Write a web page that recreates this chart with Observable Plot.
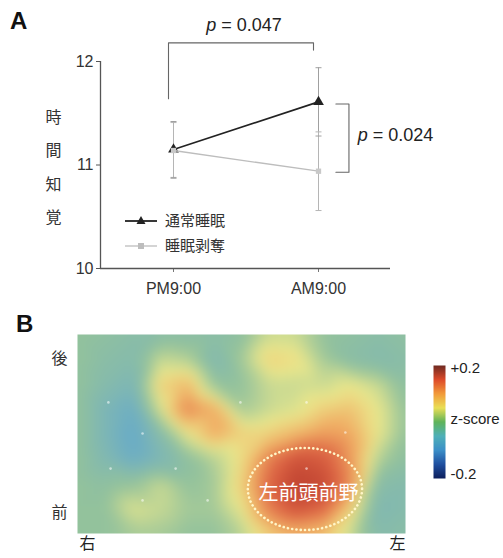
<!DOCTYPE html>
<html><head><meta charset="utf-8">
<script src="https://cdn.jsdelivr.net/npm/d3@7"></script>
<script src="https://cdn.jsdelivr.net/npm/@observablehq/plot@0.6"></script>
<style>
body{margin:0;background:#fff;}
#wrap{position:relative;width:503px;height:558px;overflow:hidden;font-family:"Liberation Sans",Arial,"Noto Sans CJK JP",sans-serif;color:#222;background:#fff;}
.panel{position:absolute;font-weight:bold;font-size:24px;line-height:24px;color:#111;}
.leg{position:absolute;font-family:"Noto Sans CJK JP",sans-serif;font-size:15px;line-height:16px;color:#333;}
</style></head><body><div id="wrap"></div>
<script>
// ---- Panel A data ----
const times = ["PM9:00", "AM9:00"];
const normalMean = [11.15, 11.61];
const normalErr = [0.27, 0.33];
const deprivMean = [11.14, 10.94];
const deprivErr = [0.27, 0.38];
const seriesNames = ["通常睡眠", "睡眠剥奪"];
const yTicks = [10, 11, 12];
const yLabelChars = ["時", "間", "知", "覚"];
const pLabels = ["p = 0.047", "p = 0.024"];
const topBracketLevel = [11.64, 12.18, 12.11];   // left foot, bar, right foot
const rightBracketSpan = [11.59, 10.93];          // AM normal -> AM deprivation
const rightBracketX = [1.12, 1.21];

const zGrid = [
  [0, -0.01, -0.02, -0.02, -0.02, -0.02, -0.01, 0.03, 0.03, 0.00, -0.01, -0.02, -0.01],
  [0, -0.02, -0.03, 0.03, 0.02, -0.04, 0.01, 0.07, 0.06, 0.01, -0.02, -0.03, -0.02],
  [0, -0.03, -0.05, 0.07, 0.09, 0.00, 0.00, 0.03, 0.03, 0.03, 0.05, 0.03, -0.01],
  [0, -0.05, -0.08, 0.04, 0.13, 0.10, 0.01, 0.03, 0.04, 0.07, 0.08, 0.05, 0.00],
  [0, -0.05, -0.09, -0.03, 0.05, 0.10, 0.07, 0.07, 0.09, 0.11, 0.10, 0.05, 0.00],
  [0, -0.04, -0.08, -0.05, -0.01, 0.02, 0.06, 0.13, 0.17, 0.16, 0.11, 0.02, -0.01],
  [0, -0.01, 0.00, 0.03, 0.00, 0.01, 0.07, 0.15, 0.19, 0.18, 0.12, -0.02, -0.03],
  [0, 0.00, 0.04, 0.03, 0.01, 0.01, 0.05, 0.13, 0.17, 0.15, 0.07, -0.04, -0.03],
  [0, 0.00, 0.01, 0.01, 0.00, 0.00, 0.02, 0.07, 0.09, 0.08, 0.03, -0.03, -0.02]
];
const electrodeX = [1.13, 2.38, 5.96, 8.38, 9.8, 1.21, 3.59, 8.38, 2.38, 4.76];
const electrodeY = [2.73, 3.98, 2.73, 2.73, 3.94, 5.39, 5.39, 5.39, 6.67, 6.67];
const regionLabel = "左前頭前野";
const regionCenter = [8.34, 6.23];
const regionRadius = [2.09, 1.65];
const sideLabels = {top: "後", bottom: "前", left: "右", right: "左"};
const zStops = [-0.2, -0.15, -0.1, -0.05, 0, 0.05, 0.1, 0.15, 0.2];
const mapColors = ["#2a4f90", "#3f7fbf", "#62a8cc", "#7db6b6", "#93c29c", "#ebe88c", "#f0aa62", "#dd6444", "#b83a2c"];
const barColors = ["#0d1f5c", "#1f4fa0", "#3c8fc8", "#4fb0b8", "#5fb35a", "#eadf55", "#f29a3a", "#dd4a2a", "#6e2a22"];
const cbLabels = ["+0.2", "z-score", "-0.2"];

const wrap = document.getElementById("wrap");
const font = "'Liberation Sans', Arial, 'Noto Sans CJK JP', sans-serif";
const cjk = "'Noto Sans CJK JP', sans-serif";

// ================= Panel A =================
const xDom = [-73 / 145, 217 / 145];
const lineData = times.flatMap((t, i) => [
  {i, s: 0, m: normalMean[i], lo: normalMean[i] - normalErr[i], hi: normalMean[i] + normalErr[i]},
  {i, s: 1, m: deprivMean[i], lo: deprivMean[i] - deprivErr[i], hi: deprivMean[i] + deprivErr[i]}
]);
const capSym = {draw(ctx, size) { const h = Math.sqrt(size / Math.PI); ctx.moveTo(-h, 0); ctx.lineTo(h, 0); }};
const caps = lineData.flatMap(d => [{i: d.i, s: d.s, y: d.lo}, {i: d.i, s: d.s, y: d.hi}]);
const topBracket = [
  {x: 0, y: topBracketLevel[0]}, {x: 0, y: topBracketLevel[1]},
  {x: 1, y: topBracketLevel[1]}, {x: 1, y: topBracketLevel[2]}
];
const rightBracket = [
  {x: rightBracketX[0], y: rightBracketSpan[0]}, {x: rightBracketX[1], y: rightBracketSpan[0]},
  {x: rightBracketX[1], y: rightBracketSpan[1]}, {x: rightBracketX[0], y: rightBracketSpan[1]}
];
const normal = lineData.filter(d => d.s === 0);
const depriv = lineData.filter(d => d.s === 1);

const chartA = Plot.plot({
  width: 503, height: 300,
  marginLeft: 100, marginRight: 113, marginTop: 61, marginBottom: 32,
  style: {fontFamily: font, fontSize: "15px", color: "#333", background: "transparent", overflow: "visible"},
  x: {domain: xDom, axis: null},
  y: {domain: [10, 12], axis: null},
  marks: [
    Plot.axisY(yTicks, {tickSize: 4, tickPadding: 3, fontSize: 16, tickFormat: "d", stroke: "#555"}),
    Plot.axisX([0, 1], {tickFormat: i => times[i], tickSize: 4, tickPadding: 10, fontSize: 16, stroke: "#777"}),
    Plot.ruleX([xDom[0]], {y1: 10, y2: 12, stroke: "#555", strokeWidth: 1.3}),
    Plot.ruleY([10], {stroke: "#555", strokeWidth: 1.3}),
    // error bars
    Plot.ruleX(lineData, {x: "i", y1: "lo", y2: "hi", stroke: d => d.s ? "#b5b5b5" : "#a0a0a0", strokeWidth: 1}),
    Plot.dot(caps, {x: "i", y: "y", symbol: capSym, r: 3, stroke: d => d.s ? "#b5b5b5" : "#a0a0a0", strokeWidth: 1}),
    // series lines
    Plot.line(normal, {x: "i", y: "m", stroke: "#222", strokeWidth: 1.6}),
    Plot.dot(normal, {x: "i", y: "m", symbol: "triangle", r: 4, fill: "#222"}),
    Plot.line(depriv, {x: "i", y: "m", stroke: "#bdbdbd", strokeWidth: 1.3}),
    Plot.dot(depriv, {x: "i", y: "m", symbol: "square", r: 3, fill: "#c8c8c8"}),
    // brackets
    Plot.line(topBracket, {x: "x", y: "y", dx: -5, stroke: "#666", strokeWidth: 1.1}),
    Plot.line(rightBracket, {x: "x", y: "y", stroke: "#666", strokeWidth: 1.1}),
    Plot.text([pLabels[0]], {x: 0.5, y: 12.35, dx: -2, fontSize: 18, fill: "#222", textAnchor: "middle"}),
    Plot.text([pLabels[1]], {x: 1.27, y: (rightBracketSpan[0] + rightBracketSpan[1]) / 2, dy: -3, fontSize: 18, fill: "#222", textAnchor: "start"}),
    // y label, one character per line
    ...yLabelChars.map((ch, k) => Plot.text([ch], {frameAnchor: "left", textAnchor: "middle", dx: -47, dy: 3 + (k - 1.5) * 33.3, fontSize: 16, fontFamily: cjk, fill: "#333"}))
  ]
});
chartA.style.position = "absolute"; chartA.style.left = "0px"; chartA.style.top = "0px";
d3.select(chartA).selectAll("text").each(function () {
  const t = this.textContent;
  if (t.startsWith("p = ")) this.innerHTML = `<tspan font-style="italic">p</tspan> = ${t.slice(4)}`;
});
wrap.appendChild(chartA);

// legend for panel A
function legendRow(top, color, symbol, label) {
  const ns = "http://www.w3.org/2000/svg";
  const s = document.createElementNS(ns, "svg");
  s.setAttribute("width", 36); s.setAttribute("height", 16);
  s.style.position = "absolute"; s.style.left = "123px"; s.style.top = (top - 8) + "px";
  const sym = symbol === "triangle"
    ? `<path d="M18,3 L22.5,11 L13.5,11 Z" fill="${color}"/>`
    : `<rect x="15" y="5" width="6" height="6" fill="${color}"/>`;
  s.innerHTML = `<line x1="2" y1="8" x2="34" y2="8" stroke="${color}" stroke-width="${symbol === 'triangle' ? 1.8 : 1.3}"/>` + sym;
  wrap.appendChild(s);
  const t = document.createElement("div");
  t.className = "leg"; t.style.left = "165px"; t.style.top = (top - 9) + "px"; t.textContent = label;
  wrap.appendChild(t);
}
legendRow(221, "#222", "triangle", seriesNames[0]);
legendRow(246, "#bdbdbd", "square", seriesNames[1]);

// panel letters
for (const [txt, l, t] of [["A", 10, 9], ["B", 16, 312]]) {
  const d = document.createElement("div");
  d.className = "panel"; d.style.left = l + "px"; d.style.top = t + "px"; d.textContent = txt;
  wrap.appendChild(d);
}

// ================= Panel B =================
const gridPts = zGrid.flatMap((row, r) => row.map((z, c) => ({x: c, y: r, z})));
const electrodes = electrodeX.map((x, k) => ({x, y: electrodeY[k]}));
const chartB = Plot.plot({
  width: 503, height: 258,
  marginLeft: 77, marginRight: 98, marginTop: 34, marginBottom: 25,
  style: {fontFamily: font, fontSize: "14px", color: "#222", background: "transparent", overflow: "visible"},
  x: {domain: [0, zGrid[0].length - 1], axis: null},
  y: {domain: [0, zGrid.length - 1], reverse: true, axis: null},
  color: {type: "linear", domain: zStops, range: mapColors, clamp: true},
  marks: [
    Plot.raster(gridPts, {x: "x", y: "y", fill: "z", interpolate: "barycentric", blur: 6}),
    Plot.dot(electrodes, {x: "x", y: "y", r: 1.3, fill: "#ffffff", fillOpacity: 0.55}),
    Plot.text([regionLabel], {x: regionCenter[0], y: regionCenter[1], dx: 3, dy: 4, fontSize: 20, fill: "#fff", fontFamily: cjk}),
    Plot.text([sideLabels.top], {frameAnchor: "top-left", textAnchor: "middle", dx: -18, dy: 18, fontSize: 16, fontFamily: cjk, fill: "#333"}),
    Plot.text([sideLabels.bottom], {frameAnchor: "bottom-left", textAnchor: "middle", dx: -18, dy: -16, fontSize: 16, fontFamily: cjk, fill: "#333"}),
    Plot.text([sideLabels.left], {frameAnchor: "bottom-left", textAnchor: "middle", dx: 10, dy: 15, fontSize: 16, fontFamily: cjk, fill: "#222"}),
    Plot.text([sideLabels.right], {frameAnchor: "bottom-right", textAnchor: "middle", dx: -8, dy: 15, fontSize: 16, fontFamily: cjk, fill: "#222"})
  ]
});
{
  const sx = chartB.scale("x"), sy = chartB.scale("y");
  const cx = sx.apply(regionCenter[0]), cy = sy.apply(regionCenter[1]);
  const rx = Math.abs(sx.apply(regionCenter[0] + regionRadius[0]) - cx);
  const ry = Math.abs(sy.apply(regionCenter[1] + regionRadius[1]) - cy);
  d3.select(chartB).append("ellipse")
    .attr("cx", cx).attr("cy", cy).attr("rx", rx).attr("ry", ry)
    .attr("fill", "none").attr("stroke", "#fff6c8").attr("stroke-width", 2.6)
    .attr("stroke-dasharray", "0.1 4.2").attr("stroke-linecap", "round");
}
chartB.style.position = "absolute"; chartB.style.left = "0px"; chartB.style.top = "300px";
wrap.appendChild(chartB);

// colour bar
const chartC = Plot.plot({
  width: 75, height: 123,
  marginLeft: 0, marginRight: 63, marginTop: 5, marginBottom: 5,
  style: {fontFamily: font, fontSize: "15px", color: "#222", background: "transparent", overflow: "visible"},
  x: {domain: [0, 1], axis: null},
  y: {domain: [zStops[0], zStops[zStops.length - 1]], axis: null},
  color: {type: "linear", domain: zStops, range: barColors},
  marks: [
    Plot.raster({fill: (x, y) => y, x1: 0, x2: 1, y1: zStops[0], y2: zStops[zStops.length - 1]}),
    Plot.text([cbLabels[0]], {x: 1, y: zStops[zStops.length - 1], dx: 5, dy: 3, textAnchor: "start", fill: "#222"}),
    Plot.text([cbLabels[1]], {x: 1, y: 0, dx: 5, dy: -3, textAnchor: "start", fill: "#222"}),
    Plot.text([cbLabels[2]], {x: 1, y: zStops[0], dx: 5, dy: -4, textAnchor: "start", fill: "#222"})
  ]
});
chartC.style.position = "absolute"; chartC.style.left = "433px"; chartC.style.top = "360px";
wrap.appendChild(chartC);
</script></body></html>
